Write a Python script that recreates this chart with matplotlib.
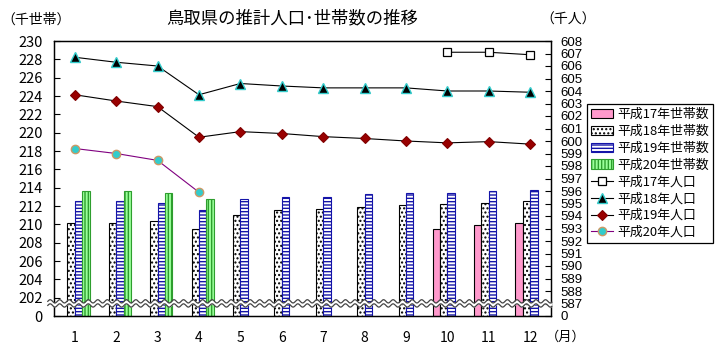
import numpy as np
import matplotlib
matplotlib.use("Agg")
import matplotlib.pyplot as plt
from matplotlib import font_manager

plt.rcParams['font.family'] = ['Noto Sans CJK JP', 'DejaVu Sans']
plt.rcParams['hatch.linewidth'] = 1.0

nan = np.nan
months = np.arange(1, 13)
month_labels = [str(m) for m in months]

# households (thousand), left axis
hh_h17 = [nan] * 9 + [209.5, 209.9, 210.1]
hh_h18 = [210.15, 210.15, 210.4, 209.5, 211.0, 211.6, 211.7, 211.9, 212.1, 212.2, 212.3, 212.6]
hh_h19 = [212.6, 212.5, 212.3, 211.6, 212.8, 213.0, 213.0, 213.3, 213.4, 213.4, 213.6, 213.7]
hh_h20 = [213.6, 213.6, 213.4, 212.8] + [nan] * 8

# population (thousand), right axis
pop_h17 = [nan] * 9 + [607.1, 607.1, 606.9]
pop_h18 = [606.7, 606.3, 606.0, 603.7, 604.6, 604.4, 604.25, 604.25, 604.25, 604.0, 604.0, 603.9]
pop_h19 = [603.7, 603.2, 602.75, 600.3, 600.75, 600.6, 600.35, 600.2, 600.0, 599.85, 599.95, 599.75]
pop_h20 = [599.4, 599.0, 598.45, 595.9] + [nan] * 8

left_ticks = list(range(200, 231, 2))
left_labels = ['0'] + [str(v) for v in left_ticks[1:]]
right_ticks = list(range(586, 609))
right_labels = ['0'] + [str(v) for v in right_ticks[1:]]

# narrow font for the right axis if there is one
names = {f.name for f in font_manager.fontManager.ttflist}
narrow = 'Liberation Sans Narrow' if 'Liberation Sans Narrow' in names else 'Liberation Sans'

fig = plt.figure(figsize=(7.18, 3.49), dpi=100)
ax = fig.add_axes([54 / 718, 1 - 316 / 349, 497 / 718, 275 / 349])
ax2 = ax.twinx()

w = 0.18
ax.bar(months - 1.5 * w, hh_h17, w, color='#FF99CC', edgecolor='black', linewidth=0.8, label='平成17年世帯数')
ax.bar(months - 0.5 * w, hh_h18, w, color='white', edgecolor='black', hatch='....', linewidth=0.8, label='平成18年世帯数')
ax.bar(months + 0.5 * w, hh_h19, w, color='white', edgecolor='#1414A8', hatch='-----', linewidth=0.8, label='平成19年世帯数')
ax.bar(months + 1.5 * w, hh_h20, w, color='#99FF99', edgecolor='#2E9E2E', hatch='|||||', linewidth=0.8, label='平成20年世帯数')

ax.set_xlim(0.5, 12.5)
ax.set_ylim(200, 230)
ax.set_yticks(left_ticks)
ax.set_yticklabels(left_labels, fontsize=10.5)
ax.set_xticks(months)
ax.set_xticklabels(month_labels, fontsize=10)
ax.tick_params(axis='x', length=0, pad=11)
ax.tick_params(axis='y', direction='in', length=4, pad=8, width=0.8)

ax2.plot(months, pop_h17, color='black', lw=0.8, marker='s', ms=6, mfc='white', mec='black', mew=0.9, label='平成17年人口')
ax2.plot(months, pop_h18, color='black', lw=0.8, marker='^', ms=7, mfc='black', mec='#33CCCC', mew=1.0, label='平成18年人口')
ax2.plot(months, pop_h19, color='black', lw=0.8, marker='D', ms=5.5, mfc='#990000', mec='#800000', mew=0.8, label='平成19年人口')
ax2.plot(months, pop_h20, color='#800080', lw=0.8, marker='o', ms=6, mfc='#33CCCC', mec='#CC9966', mew=1.0, label='平成20年人口')
ax2.set_ylim(586, 608)
ax2.set_yticks(right_ticks)
ax2.set_yticklabels(right_labels, fontsize=9.5, family=narrow)
ax2.tick_params(axis='y', direction='in', length=4, pad=7, width=0.8)

for a in (ax, ax2):
    for s in a.spines.values():
        s.set_linewidth(0.9)

# axis break: white band with two wavy edges
xs = np.linspace(0.35, 12.52, 600)
wave = 0.18 * np.sin((xs - 0.35) * 2 * np.pi / 0.23)
y_lo = 201.15 + wave
y_hi = 201.6 + wave
ax2.fill_between(xs, y_lo, y_hi, transform=ax.transData, color='white', zorder=5, clip_on=False, lw=0)
ax2.plot(xs, y_lo, transform=ax.transData, color='#444444', lw=0.9, zorder=6, clip_on=False)
ax2.plot(xs, y_hi, transform=ax.transData, color='#444444', lw=0.9, zorder=6, clip_on=False)

h1, l1 = ax.get_legend_handles_labels()
h2, l2 = ax2.get_legend_handles_labels()
leg = fig.legend(h1 + h2, l1 + l2, loc='upper left', bbox_to_anchor=(587 / 718, 1 - 104 / 349),
                 fontsize=9.3, frameon=True, fancybox=False, edgecolor='black', framealpha=1,
                 handlelength=1.75, handletextpad=0.3, labelspacing=0.3, borderpad=0.3, borderaxespad=0)
leg.get_frame().set_linewidth(0.9)

fig.text(292 / 718, 1 - 18 / 349, '鳥取県の推計人口･世帯数の推移', fontsize=12.5, ha='center', va='center')
fig.text(1 / 718, 1 - 20 / 349, '（千世帯）', fontsize=10, ha='left', va='center')
fig.text(568 / 718, 1 - 20 / 349, '（千人）', fontsize=10, ha='center', va='center')
fig.text(566 / 718, 1 - 337 / 349, '（月）', fontsize=9.5, ha='center', va='center')

fig.savefig('out.png', dpi=100)
